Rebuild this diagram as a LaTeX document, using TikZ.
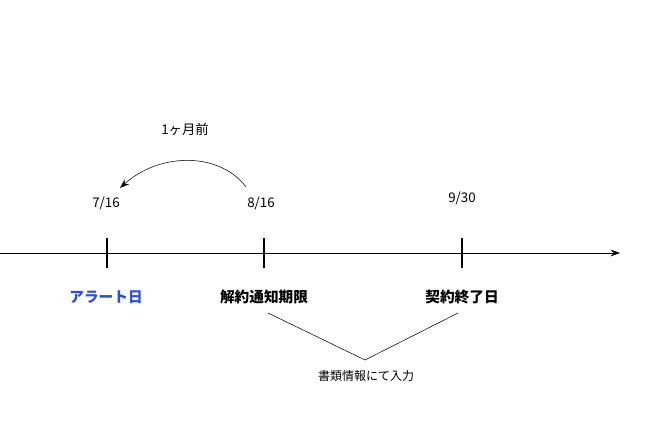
\documentclass[tikz,border=0pt]{standalone}
\usepackage{fontspec}
\setmainfont{Noto Sans CJK JP}
\usetikzlibrary{arrows.meta}
\definecolor{alertblue}{RGB}{40,80,220}
\begin{document}
\begin{tikzpicture}[x=0.75pt,y=-0.75pt,
  tick/.style={line width=2.2pt},
  lbl/.style={font=\fontsize{11}{13}\selectfont\bfseries},
  date/.style={font=\fontsize{10}{12}\selectfont}]
\useasboundingbox (0,0) rectangle (670,435);
\coordinate (s) at (0,253);
\coordinate (e) at (620,253);
\draw[-{Stealth[length=7pt,width=5pt]}] (s) -- (e);
\coordinate (t1a) at (107,238); \coordinate (t1b) at (107,268);
\coordinate (t2a) at (264,238); \coordinate (t2b) at (264,268);
\coordinate (t3a) at (462,238); \coordinate (t3b) at (462,268);
\draw[tick] (t1a) -- (t1b);
\draw[tick] (t2a) -- (t2b);
\draw[tick] (t3a) -- (t3b);
\node[date] (d1) at (106,203) {7/16};
\node[date] (d2) at (261,203) {8/16};
\node[date] (d3) at (462,198) {9/30};
\node[date] (m) at (185,129) {1ヶ月前};
\coordinate (ca) at (246,187);
\coordinate (cb) at (120,188);
\draw[-{Stealth[length=7pt,width=5pt]}] (ca) .. controls (220,152) and (160,152) .. (cb);
\node[lbl,text=alertblue] (l1) at (106,297) {アラート日};
\node[lbl] (l2) at (264,297) {解約通知期限};
\node[lbl] (l3) at (462,297) {契約終了日};
\node[font=\fontsize{9}{11}\selectfont] (n) at (366,376) {書類情報にて入力};
\coordinate (v) at (365,360);
\draw (268,313) -- (v) -- (458,313);
\end{tikzpicture}
\end{document}
